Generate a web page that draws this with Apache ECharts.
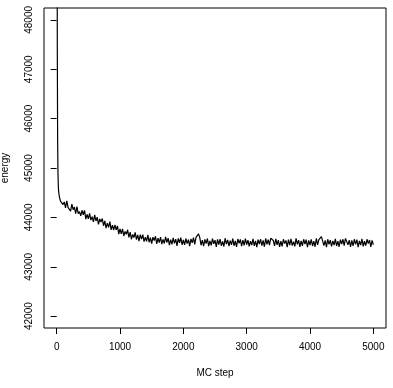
<!DOCTYPE html>
<html>
<head>
<meta charset="utf-8">
<script src="https://cdn.jsdelivr.net/npm/echarts@6/dist/echarts.min.js"></script>
<style>
html,body{margin:0;padding:0;background:#fff;}
#chart{width:393px;height:388px;}
</style>
</head>
<body>
<div id="chart"></div>
<script>
// ---- data ----
var xTicks = [0, 1000, 2000, 3000, 4000, 5000];
var yTicks = [42000, 43000, 44000, 45000, 46000, 47000, 48000];
var xLabelName = 'MC step';
var yLabelName = 'energy';

var burnInSteps  = [0, 5, 10, 15, 20, 25, 30, 40, 50, 60, 70, 80, 90, 100];
var burnInEnergy = [62000, 52000, 47500, 45600, 44950, 44680, 44540, 44440, 44380, 44330, 44350, 44290, 44310, 44260];

var steps1 = [120,140,160,180,200,220,240,260,280,300,320,340,360,380,400,420,440,460,480,500,520,540,560,580,600,620,640,660,680,700,720,740,760,780,800,820,840,860,880,900,920,940,960,980,1000];
var energy1 = [44313,44191,44333,44203,44236,44125,44267,44156,44210,44078,44220,44077,44118,44031,44144,44054,44143,43965,44062,43972,44082,43944,44014,43908,44050,43928,44006,43860,43970,43904,43977,43831,43928,43782,43884,43797,43915,43748,43842,43744,43849,43746,43827,43660,43765];

var steps2 = [1020,1040,1060,1080,1100,1120,1140,1160,1180,1200,1220,1240,1260,1280,1300,1320,1340,1360,1380,1400,1420,1440,1460,1480,1500,1520,1540,1560,1580,1600,1620,1640,1660,1680,1700,1720,1740,1760,1780,1800,1820,1840,1860,1880,1900,1920,1940,1960,1980,2000];
var energy2 = [43667,43769,43623,43717,43656,43750,43596,43703,43557,43656,43590,43697,43551,43645,43520,43651,43558,43649,43508,43599,43514,43645,43496,43592,43467,43598,43532,43617,43462,43580,43490,43599,43460,43554,43472,43606,43492,43578,43440,43550,43452,43587,43474,43561,43424,43575,43486,43590,43446,43542];

var steps3 = [2020,2040,2060,2080,2100,2120,2140,2160,2180,2200,2220,2240,2260,2280,2300,2320,2340,2360,2380,2400,2420,2440,2460,2480,2500,2520,2540,2560,2580,2600,2620,2640,2660,2680,2700,2720,2740,2760,2780,2800,2820,2840,2860,2880,2900,2920,2940,2960,2980,3000];
var energy3 = [43444,43572,43468,43548,43420,43564,43484,43588,43452,43596,43610,43665,43590,43436,43540,43420,43556,43468,43572,43418,43522,43434,43570,43466,43538,43402,43554,43450,43562,43426,43514,43410,43578,43458,43546,43418,43530,43442,43570,43426,43522,43402,43562,43474,43554,43418,43538,43434,43570,43450];

var steps4 = [3020,3040,3060,3080,3100,3120,3140,3160,3180,3200,3220,3240,3260,3280,3300,3320,3340,3360,3380,3400,3420,3440,3460,3480,3500,3520,3540,3560,3580,3600,3620,3640,3660,3680,3700,3720,3740,3760,3780,3800,3820,3840,3860,3880,3900,3920,3940,3960,3980,4000];
var energy4 = [43541,43413,43517,43437,43565,43421,43525,43397,43549,43461,43557,43429,43533,43405,43573,43453,43549,43437,43580,43605,43533,43421,43565,43445,43541,43405,43517,43413,43557,43469,43533,43397,43549,43437,43565,43429,43509,43413,43573,43453,43541,43405,43525,43421,43557,43461,43549,43397,43533,43437];

var steps5 = [4020,4040,4060,4080,4100,4120,4140,4160,4180,4200,4220,4240,4260,4280,4300,4320,4340,4360,4380,4400,4420,4440,4460,4480,4500,4520,4540,4560,4580,4600,4620,4640,4660,4680,4700,4720,4740,4760,4780,4800,4820,4840,4860,4880,4900,4920,4940,4960,4980,5000];
var energy5 = [43557,43421,43517,43405,43573,43445,43549,43570,43610,43580,43429,43533,43397,43557,43453,43541,43413,43525,43437,43565,43421,43517,43405,43549,43461,43557,43429,43575,43590,43445,43541,43405,43533,43421,43557,43453,43549,43397,43525,43437,43565,43413,43517,43429,43557,43469,43541,43405,43533,43445];

// ---- build series data ----
var allSteps = burnInSteps.concat(steps1, steps2, steps3, steps4, steps5);
var allEnergy = burnInEnergy.concat(energy1, energy2, energy3, energy4, energy5);
var seriesData = allSteps.map(function (s, i) { return [s, allEnergy[i]]; });

var FONT = 'Liberation Sans, Arial, Helvetica, sans-serif';
var plain = function (v) { return String(v); };
var chart = echarts.init(document.getElementById('chart'), null, {renderer: 'canvas'});
chart.setOption({
  animation: false,
  backgroundColor: '#ffffff',
  grid: {
    left: 44, right: 7, top: 8, bottom: 60,
    containLabel: false,
    outerBoundsMode: 'none',
    show: true, borderColor: '#000', borderWidth: 1, backgroundColor: 'transparent'
  },
  xAxis: {
    type: 'value',
    min: -200, max: 5200,
    name: xLabelName,
    nameLocation: 'middle',
    nameGap: 40,
    nameTextStyle: {color: '#000', fontFamily: FONT, fontSize: 10},
    axisLine: {show: false},
    axisTick: {show: true, length: 6, lineStyle: {color: '#000', width: 1}, customValues: xTicks},
    axisLabel: {color: '#000', fontFamily: FONT, fontSize: 10, margin: 14, customValues: xTicks, formatter: plain},
    splitLine: {show: false}
  },
  yAxis: {
    type: 'value',
    min: 41760, max: 48240,
    name: yLabelName,
    nameLocation: 'middle',
    nameGap: 34,
    nameRotate: 90,
    nameTextStyle: {color: '#000', fontFamily: FONT, fontSize: 10},
    axisLine: {show: false},
    axisTick: {show: true, length: 6, lineStyle: {color: '#000', width: 1}, customValues: yTicks},
    axisLabel: {color: '#000', fontFamily: FONT, fontSize: 10, margin: 10, rotate: 90, customValues: yTicks, formatter: plain},
    splitLine: {show: false}
  },
  series: [{
    type: 'line',
    data: seriesData,
    showSymbol: false,
    clip: true,
    lineStyle: {color: '#000', width: 1.2},
    emphasis: {disabled: true}
  }]
});
</script>
</body>
</html>
